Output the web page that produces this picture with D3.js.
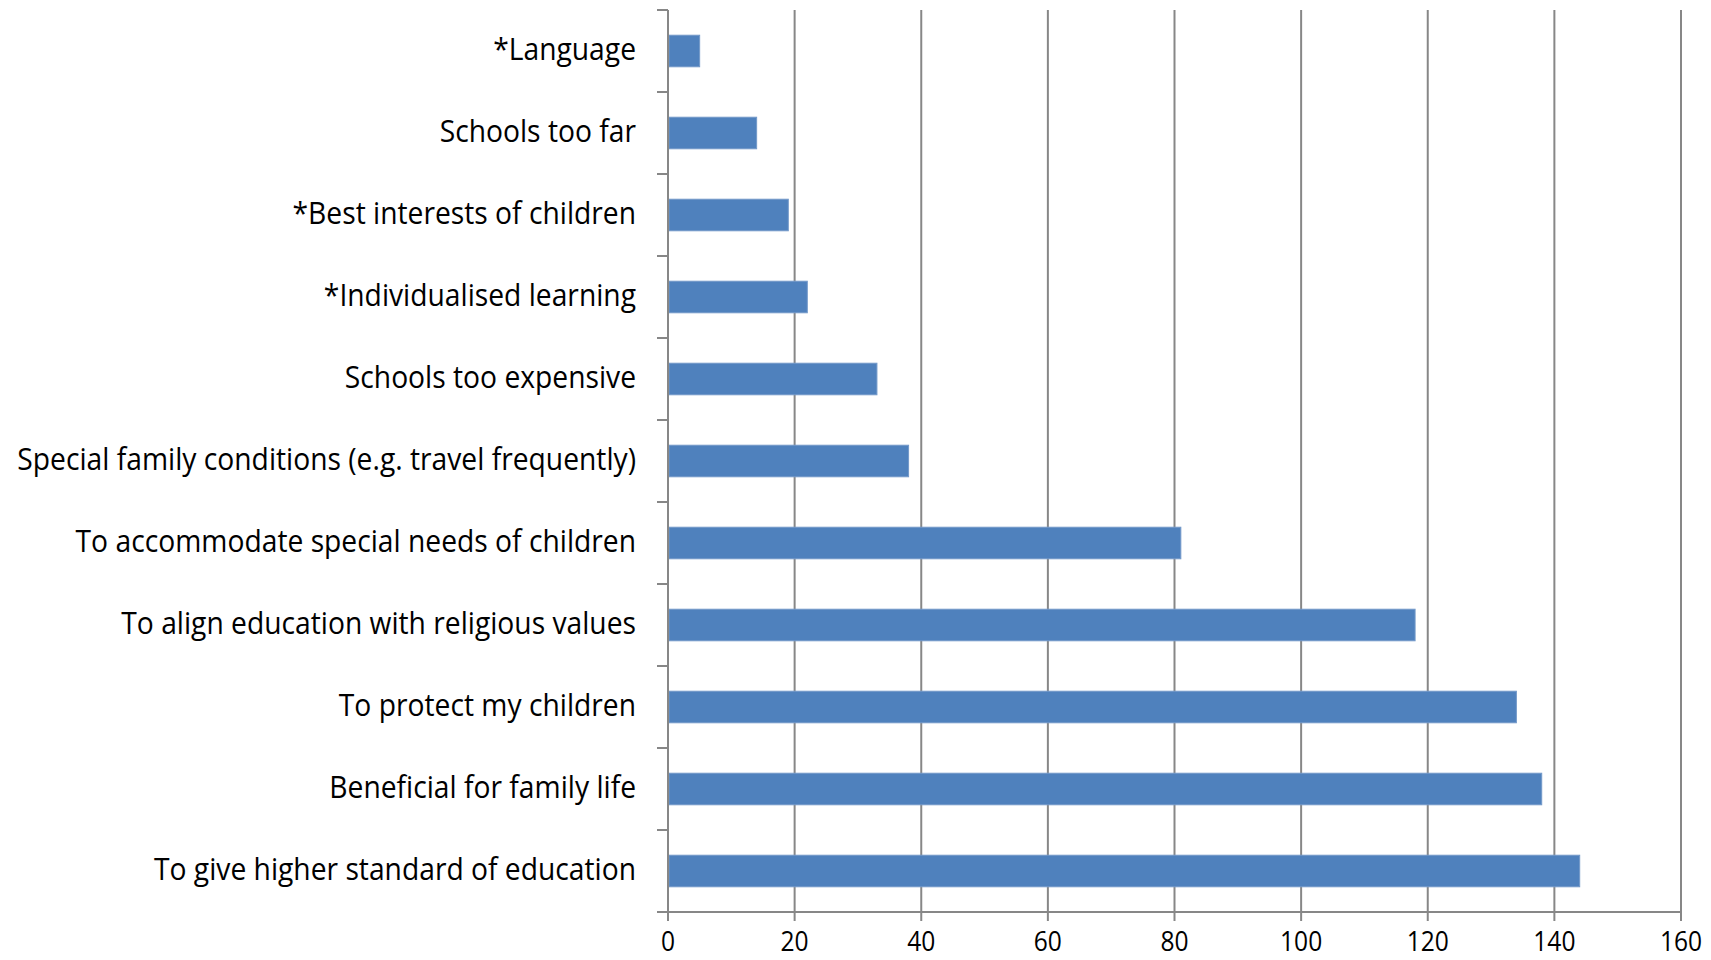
<!DOCTYPE html>
<html>
<head>
<meta charset="utf-8">
<script src="https://cdn.jsdelivr.net/npm/d3@7"></script>
<style>
  html, body { margin: 0; padding: 0; background: #ffffff; }
  svg { display: block; }
  text { font-family: "Open Sans", "Lato", sans-serif; fill: #000; }
</style>
</head>
<body>
<svg id="chart" width="1711" height="960"></svg>
<script>
// Reasons given for home education (number of responses), listed top to bottom
const categories = [
  "*Language",
  "Schools too far",
  "*Best interests of children",
  "*Individualised learning",
  "Schools too expensive",
  "Special family conditions (e.g. travel frequently)",
  "To accommodate special needs of children",
  "To align education with religious values",
  "To protect my children",
  "Beneficial for family life",
  "To give higher standard of education"
];
const values = [5, 14, 19, 22, 33, 38, 81, 118, 134, 138, 144];
const xTicks = [0, 20, 40, 60, 80, 100, 120, 140, 160];

const margin = { top: 10, right: 30, bottom: 48, left: 668 };
const width = 1711, height = 960;
const fontSize = 31;
const tickFontSize = 27;
const longestLabelWidth = 619; // rendered width of the widest category label

const svg = d3.select("#chart");
const plotH = height - margin.top - margin.bottom;

const x = d3.scaleLinear().domain([0, 160]).range([0, 1013]);
const y = d3.scaleBand().domain(categories).range([0, plotH]).paddingInner(0.615).paddingOuter(0.3075);

const g = svg.append("g").attr("transform", `translate(${margin.left},${margin.top})`);

// measure natural width of the longest label to get a horizontal condensing factor
const probe = svg.append("text").attr("font-size", fontSize)
  .text(categories.reduce((a, b) => a.length > b.length ? a : b));
const natural = probe.node().getComputedTextLength();
probe.remove();
const sx = longestLabelWidth / natural;

const gridColor = "#878787";

// vertical gridlines
g.append("g").selectAll("line").data(xTicks.slice(1)).join("line")
  .attr("x1", d => x(d)).attr("x2", d => x(d))
  .attr("y1", 0).attr("y2", plotH)
  .attr("stroke", gridColor).attr("stroke-width", 2);

// bars
g.append("g").selectAll("rect").data(values).join("rect")
  .attr("x", x(0) + 1)
  .attr("y", (d, i) => y(categories[i]))
  .attr("width", d => x(d) - x(0) - 1)
  .attr("height", y.bandwidth())
  .attr("fill", "#4f81bd")
  .attr("stroke", "#7399c9")
  .attr("stroke-width", 1);

// category axis: line plus ticks at band boundaries
const boundaries = d3.range(categories.length + 1).map(i => i * plotH / categories.length);
g.append("line").attr("x1", 0).attr("x2", 0).attr("y1", 0).attr("y2", plotH)
  .attr("stroke", gridColor).attr("stroke-width", 2);
g.append("g").selectAll("line").data(boundaries).join("line")
  .attr("x1", -11).attr("x2", 0).attr("y1", d => d).attr("y2", d => d)
  .attr("stroke", gridColor).attr("stroke-width", 2);

// category labels
g.append("g").selectAll("g").data(categories).join("g")
  .attr("transform", d => `translate(${-32},${y(d) + y.bandwidth() / 2 + 9}) scale(${sx},1)`)
  .append("text")
  .attr("text-anchor", "end")
  .attr("font-size", fontSize)
  .text(d => d);

// value axis
g.append("line").attr("x1", -11).attr("x2", x(160)).attr("y1", plotH).attr("y2", plotH)
  .attr("stroke", gridColor).attr("stroke-width", 2);
g.append("g").selectAll("line").data(xTicks).join("line")
  .attr("x1", d => x(d)).attr("x2", d => x(d))
  .attr("y1", plotH).attr("y2", plotH + 9)
  .attr("stroke", gridColor).attr("stroke-width", 2);
g.append("g").selectAll("g").data(xTicks).join("g")
  .attr("transform", d => `translate(${x(d)},${plotH + 39}) scale(${sx},1)`)
  .append("text")
  .attr("text-anchor", "middle")
  .attr("font-size", tickFontSize)
  .text(d => d);
</script>
</body>
</html>
